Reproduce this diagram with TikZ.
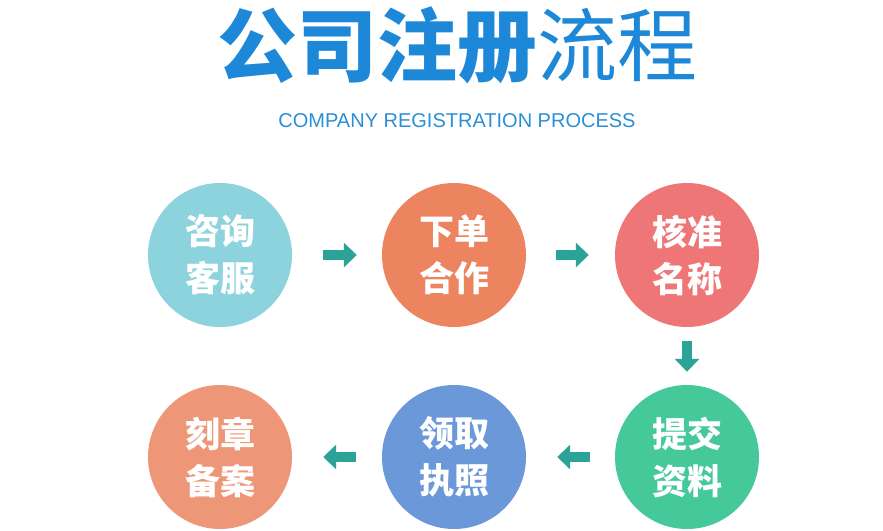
\documentclass[tikz,border=0pt]{standalone}
\usepackage{fontspec}
\setmainfont{Liberation Sans}
\newfontfamily\cjk{Noto Sans CJK SC}
\usetikzlibrary{arrows.meta, positioning}
\definecolor{titleblue}{HTML}{1E88D8}
\definecolor{subblue}{HTML}{2B8FD6}
\definecolor{arrowteal}{HTML}{2BA399}
\definecolor{stepcyan}{HTML}{8DD3DD}
\definecolor{steporange}{HTML}{EC845F}
\definecolor{stepred}{HTML}{EE7676}
\definecolor{stepgreen}{HTML}{45C99B}
\definecolor{stepblue}{HTML}{6A98D8}
\definecolor{stepsalmon}{HTML}{EE9778}
\tikzset{
  stepcircle/.style={
    circle, minimum size=144pt, inner sep=0pt,
    fill=#1, text=white, align=center,
    font=\cjk\bfseries\fontsize{35}{47}\selectfont
  },
  blockarrow/.style={
    line width=10pt, draw=arrowteal,
    -{Triangle[length=13pt, width=24pt]}
  },
}

\begin{document}
\begin{tikzpicture}[x=1pt, y=-1pt]
      \useasboundingbox (0,0) rectangle (883,530);
      \node[text=titleblue, font=\cjk\fontsize{80}{82}\selectfont, inner sep=0pt]
           (title) at (457,45) {{\bfseries 公司注册}流程};
      \node[text=subblue, font=\fontsize{20}{22}\selectfont, inner sep=0pt]
           (subtitle) at (457,121) {COMPANY REGISTRATION PROCESS};
      \node[stepcircle=stepcyan]  (s1) at (220,255) {咨询\\客服};
      \node[stepcircle=steporange](s2) at (454,255) {下单\\合作};
      \node[stepcircle=stepred]   (s3) at (687,255) {核准\\名称};
      \node[stepcircle=stepgreen] (s4) at (687,457) {提交\\资料};
      \node[stepcircle=stepblue]  (s5) at (454,457) {领取\\执照};
      \node[stepcircle=stepsalmon](s6) at (220,457) {刻章\\备案};
      \draw[blockarrow, shorten <=31pt, shorten >=25pt](s1.east)--(s2.west);
      \draw[blockarrow, shorten <=30pt, shorten >=26pt](s2.east)--(s3.west);
      \draw[blockarrow, shorten <=14pt, shorten >=13pt](s3.south)--(s4.north);
      \draw[blockarrow, shorten <=25pt, shorten >=31pt](s4.west)--(s5.east);
      \draw[blockarrow, shorten <=26pt, shorten >=31pt](s5.west)--(s6.east);
    \end{tikzpicture}
\end{document}
